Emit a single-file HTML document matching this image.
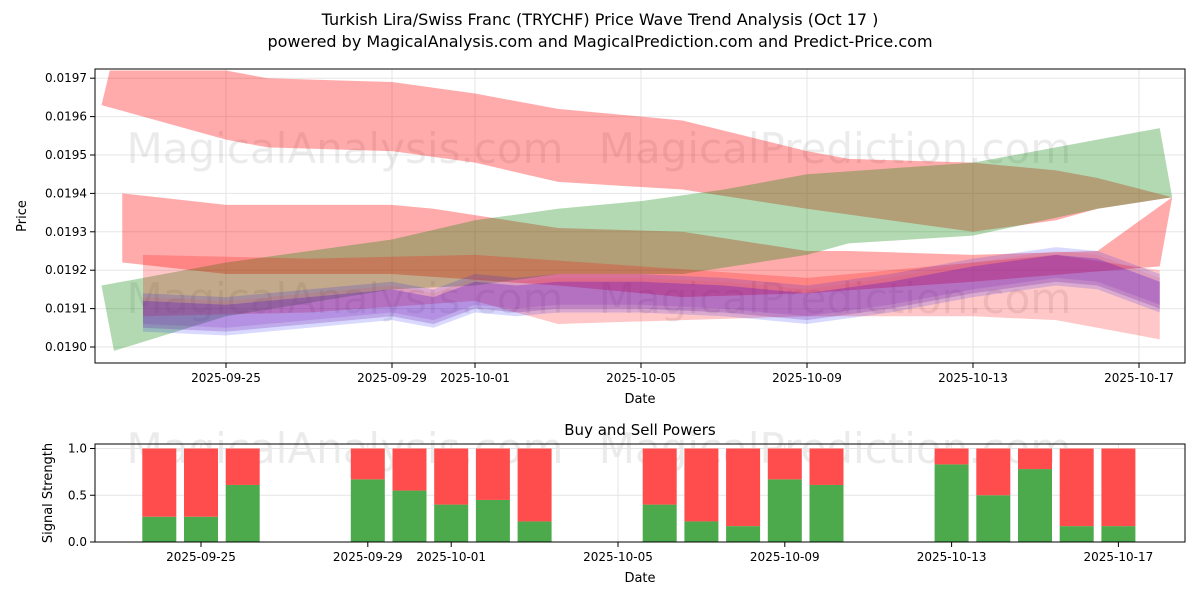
<!DOCTYPE html>
<html><head><meta charset="utf-8"><style>
body{margin:0;background:#fff;font-family:"Liberation Sans","DejaVu Sans",sans-serif}
svg text{font-family:"DejaVu Sans","Liberation Sans",sans-serif}
</style></head><body>
<svg id="c" width="1200" height="600" xmlns="http://www.w3.org/2000/svg">
<rect width="1200" height="600" fill="#fff"/>
<text x="600" y="25" font-size="16" text-anchor="middle">Turkish Lira/Swiss Franc (TRYCHF) Price Wave Trend Analysis (Oct 17 )</text>
<text x="600" y="47" font-size="16" text-anchor="middle">powered by MagicalAnalysis.com and MagicalPrediction.com and Predict-Price.com</text>
<g id="topg"></g><g id="botg"></g>
</svg>
<script>
// ---- data ----
const bandAdHi=[0.2,3,4,7,9,11,14,17,18,21,23,24,25.8];
const bandAHi=[0.01972,0.01972,0.01970,0.01969,0.01966,0.01962,0.01959,0.01951,0.01949,0.01948,0.01946,0.01944,0.01939];
const bandAdLo=[0,3,4,7,9,11,14,17,21,23,24,25.8];
const bandALo=[0.01963,0.01954,0.01952,0.01951,0.01948,0.01943,0.01941,0.01936,0.01930,0.01933,0.01936,0.01939];
const bandBdHi=[0.5,3,4,7,8,11,14,17,18,21,24,25.8];
const bandBHi=[0.01940,0.01937,0.01937,0.01937,0.01936,0.01931,0.01930,0.01925,0.01925,0.01924,0.01925,0.01939];
const bandBdLo=[0.5,3,7,11,14,17,21,25.5];
const bandBLo=[0.01922,0.01919,0.01919,0.01916,0.01913,0.01914,0.01917,0.01921];
const bandGdHi=[0,3,5,7,9,11,13,15,17,21,24,25.5,25.8];
const bandGHi=[0.01916,0.01922,0.01925,0.01928,0.01933,0.01936,0.01938,0.01941,0.01945,0.01948,0.01954,0.01957,0.01939];
const bandGdLo=[0.3,3,7,9,11,14,17,18,21,24,25.8];
const bandGLo=[0.01899,0.01908,0.01915,0.01916,0.01919,0.01919,0.01924,0.01927,0.01929,0.01936,0.01939];
const bandCdHi=[1,5,9,13,17,21,23,25.5];
const bandCHi=[0.01924,0.01923,0.01924,0.01921,0.01918,0.01922,0.01924,0.01920];
const bandCdLo=[1,5,9,11,17,21,23,25.5];
const bandCLo=[0.01908,0.01909,0.01912,0.01906,0.01908,0.01908,0.01907,0.01902];
const waveDays=[1,3,5,7,8,9,10,11,13,15,16,17,19,21,23,24,25.5];
const waveMid=[0.01909,0.01908,0.01910,0.01912,0.01910,0.01914,0.01913,0.01914,0.01914,0.01913,0.01912,0.01911,0.01914,0.01918,0.01921,0.01920,0.01914];
const topTickDays=[3,7,9,13,17,21,25];
const tickLabels=["2025-09-25","2025-09-29","2025-10-01","2025-10-05","2025-10-09","2025-10-13","2025-10-17"];
const priceTicks=[0.0190,0.0191,0.0192,0.0193,0.0194,0.0195,0.0196,0.0197];
const barDays=[2,3,4,7,8,9,10,11,14,15,16,17,18,21,22,23,24,25];
const buyVals=[0.27,0.27,0.61,0.67,0.55,0.40,0.45,0.22,0.40,0.22,0.17,0.67,0.61,0.83,0.50,0.78,0.17,0.17];
const sigTicks=[0.0,0.5,1.0];
// ---- scales ----
const NS="http://www.w3.org/2000/svg";
const xT=d=>101.5+41.5*d, yT=p=>347-(p-0.0190)*384000;
const xB=d=>201+(d-3)*41.7, yB=v=>542-v*93.5;
function mk(tag,attrs,parent){const e=document.createElementNS(NS,tag);for(const k in attrs)e.setAttribute(k,attrs[k]);parent.appendChild(e);return e;}
const gTop=document.getElementById('topg'), gBot=document.getElementById('botg');
for(let i=0;i<priceTicks.length;i++){const y=yT(priceTicks[i]);
 mk('line',{x1:95,x2:1185,y1:y,y2:y,stroke:'#e6e6e6'},gTop);
 mk('line',{x1:90,x2:95,y1:y,y2:y,stroke:'#000'},gTop);
 const t=mk('text',{x:87,y:y+4,'font-size':12,'text-anchor':'end'},gTop);t.textContent=priceTicks[i].toFixed(4);
 
 }
for(let i=0;i<topTickDays.length;i++){const x=xT(topTickDays[i]);
 mk('line',{x1:x,x2:x,y1:69,y2:363,stroke:'#e6e6e6'},gTop);
 mk('line',{x1:x,x2:x,y1:363,y2:368,stroke:'#000'},gTop);
 const t=mk('text',{x:x,y:382,'font-size':12,'text-anchor':'middle'},gTop);t.textContent=tickLabels[i];
 
 }
function wm(g,x,y){const t=mk('text',{x:x,y:y,'font-size':42,'text-anchor':'middle',fill:'#000','fill-opacity':0.08},g);
 
 
 return t;}
wm(gTop,345,163).textContent='MagicalAnalysis.com';wm(gTop,835,163).textContent='MagicalPrediction.com';
wm(gTop,345,313).textContent='MagicalAnalysis.com';wm(gTop,835,313).textContent='MagicalPrediction.com';
function band(dh,hi,dl,lo,fill,op,name){let pts=[];for(let i=0;i<dh.length;i++)pts.push(xT(dh[i])+','+yT(hi[i]));
 for(let i=dl.length-1;i>=0;i--)pts.push(xT(dl[i])+','+yT(lo[i]));
 const p=mk('polygon',{points:pts.join(' '),fill:fill,'fill-opacity':op},gTop);
 
 }
band(bandAdHi,bandAHi,bandAdLo,bandALo,'#ff0000',0.33,'red-band-upper');
band(bandBdHi,bandBHi,bandBdLo,bandBLo,'#ff0000',0.33,'red-band-middle');
band(bandGdHi,bandGHi,bandGdLo,bandGLo,'#008000',0.3,'green-band');
band(bandCdHi,bandCHi,bandCdLo,bandCLo,'#ff0000',0.22,'red-band-lower');
const offs=[[0.00005,0.00004,'#0000ff',0.15],[0.00003,0.00005,'#0000ff',0.15],[0.00003,0.00003,'#6a00c0',0.15],[0.00004,0.00004,'#ff3030',0.1]];
offs.forEach(o=>{band(waveDays,waveMid.map(v=>v+o[0]),waveDays,waveMid.map(v=>v-o[1]),o[2],o[3],'wave-band');});
mk('rect',{x:95,y:69,width:1090,height:294,fill:'none',stroke:'#000'},gTop);
let t=mk('text',{x:640,y:403,'font-size':13,'text-anchor':'middle'},gTop);t.textContent='Date';
t=mk('text',{x:26,y:216,'font-size':13,'text-anchor':'middle',transform:'rotate(-90 26 216)'},gTop);t.textContent='Price';
// bottom
t=mk('text',{x:640,y:435,'font-size':15,'text-anchor':'middle'},gBot);t.textContent='Buy and Sell Powers';
wm(gBot,345,463).textContent='MagicalAnalysis.com';wm(gBot,835,463).textContent='MagicalPrediction.com';
for(const v of sigTicks){const y=yB(v);mk('line',{x1:95,x2:1185,y1:y,y2:y,stroke:'#e6e6e6'},gBot);
 mk('line',{x1:90,x2:95,y1:y,y2:y,stroke:'#000'},gBot);
 const s=mk('text',{x:87,y:y+4,'font-size':12,'text-anchor':'end'},gBot);s.textContent=v.toFixed(1);}
for(let i=0;i<topTickDays.length;i++){const x=xB(topTickDays[i]);
 mk('line',{x1:x,x2:x,y1:444,y2:542,stroke:'#e6e6e6'},gBot);
 mk('line',{x1:x,x2:x,y1:542,y2:547,stroke:'#000'},gBot);
 const s=mk('text',{x:x,y:561,'font-size':12,'text-anchor':'middle'},gBot);s.textContent=tickLabels[i];}
for(let i=0;i<barDays.length;i++){const x=xB(barDays[i])-17;
 const g=mk('rect',{x:x,y:yB(buyVals[i]),width:34,height:yB(0)-yB(buyVals[i]),fill:'#4caa4c'},gBot);
 
 
 const r=mk('rect',{x:x,y:yB(1),width:34,height:yB(buyVals[i])-yB(1),fill:'#ff4d4d'},gBot);
 
 }
mk('rect',{x:95,y:444,width:1090,height:98,fill:'none',stroke:'#000'},gBot);
t=mk('text',{x:640,y:582,'font-size':13,'text-anchor':'middle'},gBot);t.textContent='Date';
t=mk('text',{x:52,y:493,'font-size':13,'text-anchor':'middle',transform:'rotate(-90 52 493)'},gBot);t.textContent='Signal Strength';
</script>
</body></html>
